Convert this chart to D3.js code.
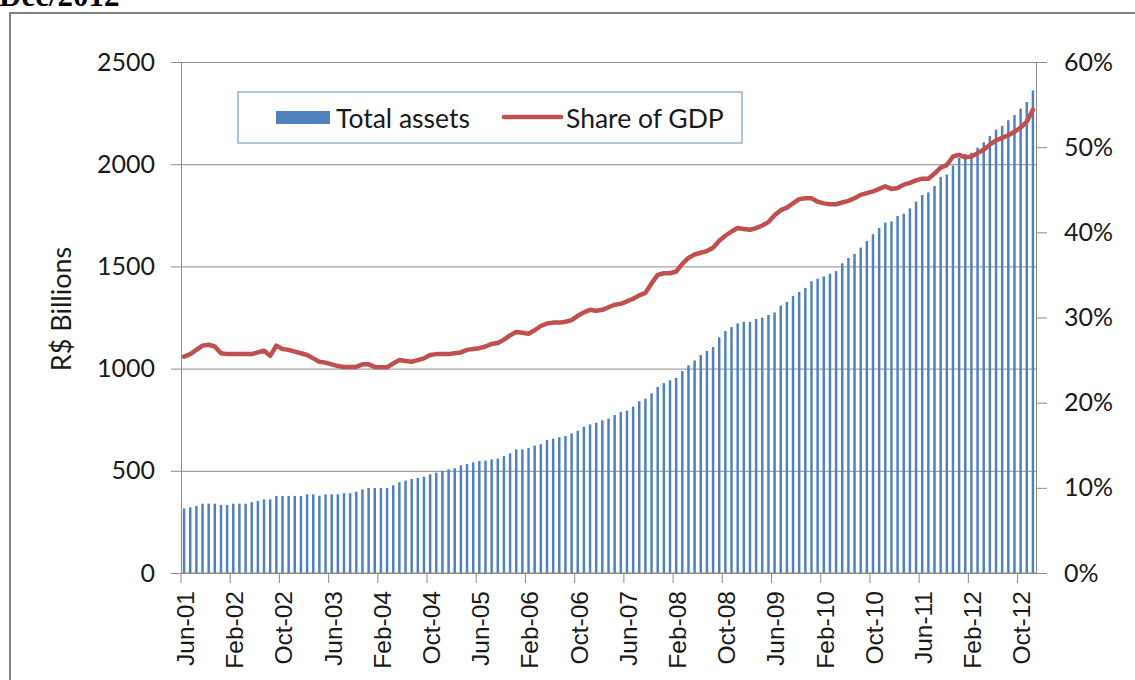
<!DOCTYPE html>
<html lang="en">
  <head>
    <meta charset="UTF-8">
    <title>Total assets and share of GDP</title>
    <style>
      body { margin: 0; background: #fff; }
      text { font-family: Lato, "Open Sans", sans-serif; fill: #1a1a1a; }
    </style>
  </head>
  <body>
<div id="my_dataviz"></div>
<script src="https://d3js.org/d3.v7.min.js"></script>
<script>

// monthly data, Jun-01 .. Dec-12
var startMonth = "2001-06"
var endMonth = "2012-12"

// total assets, R$ billions
var totalAssets = [316,321,328,339,339,339,333,333,339,339,339,346,352,360,360,377,377,377,377,377,
  385,385,378,385,385,385,390,390,398,409,416,416,416,416,429,444,452,460,465,471,
  483,491,499,507,512,527,533,541,548,550,556,560,572,585,605,605,611,623,630,651,
  657,664,670,683,696,716,727,735,747,755,773,788,794,814,840,853,879,910,929,943,
  955,988,1016,1040,1066,1086,1106,1153,1184,1203,1221,1229,1229,1243,1249,1262,1275,1308,1327,1355,
  1375,1395,1427,1440,1451,1464,1477,1515,1541,1561,1592,1624,1657,1688,1714,1720,1746,1758,1784,1817,
  1849,1862,1893,1937,1950,1993,2030,2050,2056,2081,2107,2138,2169,2188,2215,2240,2272,2304,2361]

// share of GDP, %
var shareGdp = [25.4,25.7,26.2,26.7,26.8,26.6,25.8,25.7,25.7,25.7,25.7,25.7,25.9,26.1,25.5,26.7,26.3,26.2,26.0,25.8,
  25.6,25.2,24.8,24.7,24.5,24.3,24.2,24.2,24.2,24.5,24.5,24.2,24.15,24.15,24.6,25.0,24.9,24.8,25.0,25.2,
  25.6,25.7,25.7,25.7,25.8,25.9,26.2,26.3,26.4,26.6,26.9,27.0,27.4,27.9,28.3,28.2,28.1,28.5,29.0,29.3,
  29.4,29.4,29.5,29.7,30.2,30.6,30.9,30.8,30.9,31.2,31.5,31.6,31.9,32.2,32.6,32.9,34.0,35.0,35.2,35.2,
  35.4,36.3,37.0,37.4,37.6,37.8,38.2,39.0,39.6,40.1,40.5,40.4,40.3,40.5,40.8,41.2,42.0,42.6,42.9,43.4,
  43.9,44.0,44.0,43.6,43.4,43.3,43.3,43.5,43.7,44.0,44.4,44.6,44.8,45.1,45.4,45.1,45.2,45.6,45.8,46.1,
  46.3,46.3,46.9,47.6,47.9,48.9,49.1,48.8,48.9,49.3,49.7,50.3,50.8,51.1,51.4,51.8,52.3,53.0,54.4]

var xTickLabels = ["Jun-01","Feb-02","Oct-02","Jun-03","Feb-04","Oct-04","Jun-05","Feb-06","Oct-06",
  "Jun-07","Feb-08","Oct-08","Jun-09","Feb-10","Oct-10","Jun-11","Feb-12","Oct-12"]
var leftTicks = [0, 500, 1000, 1500, 2000, 2500]
var rightTicks = [0, 10, 20, 30, 40, 50, 60]

var width = 1135
    height = 680
    margin = {top: 62, right: 99, bottom: 107, left: 181}

var fmtMonth = d3.timeFormat("%b-%y")
var parse = d3.timeParse("%Y-%m")
var months = d3.timeMonth.range(parse(startMonth), d3.timeMonth.offset(parse(endMonth), 1)).map(fmtMonth)

var data = months.map(function(m, i) { return {month: m, assets: totalAssets[i], share: shareGdp[i]} })

var svg = d3.select("#my_dataviz")
  .append("svg")
    .attr("width", width)
    .attr("height", height)

// outer frame (runs off the picture on the right and bottom)
svg.append("rect")
  .attr("x", 10).attr("y", 13)
  .attr("width", 1140).attr("height", 690)
  .attr("fill", "none")
  .attr("stroke", "#7f7f7f")
  .attr("stroke-width", 2)

// heading, cut off at the top like in the source page
svg.append("text")
  .attr("x", -1).attr("y", 6)
  .style("font-family", "'Liberation Serif', serif")
  .style("font-weight", "bold")
  .style("font-size", "31px")
  .style("fill", "#000")
  .text("Dec/2012")

var x0 = margin.left, x1 = width - margin.right
var y0 = height - margin.bottom, y1 = margin.top

var x = d3.scaleBand()
  .domain(months)
  .range([x0, x1])
  .paddingInner(0.6)
  .paddingOuter(0.3)

var y = d3.scaleLinear().domain([0, 2500]).range([y0, y1])
var yR = d3.scaleLinear().domain([0, 60]).range([y0, y1])

// gridlines + left axis
var gLeft = svg.append("g")
  .attr("transform", "translate(" + x0 + ",0)")
  .call(d3.axisLeft(y).tickValues(leftTicks).tickSize(10).tickPadding(16).tickFormat(d3.format("d")))
gLeft.selectAll(".tick line").clone()
  .attr("x2", x1 - x0)
gLeft.selectAll("line").attr("stroke", "#8c8c8c")
gLeft.select(".domain").attr("stroke", "#8c8c8c")
gLeft.selectAll("text")
  .style("font-family", "Lato, sans-serif")
  .style("font-size", "25px")
  .attr("fill", "#1a1a1a")

// right axis
var gRight = svg.append("g")
  .attr("transform", "translate(" + x1 + ",0)")
  .call(d3.axisRight(yR).tickValues(rightTicks).tickSize(11).tickPadding(17).tickFormat(function(d) { return d + "%" }))
gRight.selectAll("line").attr("stroke", "#8c8c8c")
gRight.select(".domain").attr("stroke", "#8c8c8c")
gRight.selectAll("text")
  .style("font-family", "Lato, sans-serif")
  .style("font-size", "25px")
  .attr("fill", "#1a1a1a")

// bars
svg.append("g")
  .selectAll("rect")
  .data(data)
  .enter()
  .append("rect")
    .attr("x", function(d) { return x(d.month) })
    .attr("width", x.bandwidth())
    .attr("y", function(d) { return y(d.assets) })
    .attr("height", function(d) { return y0 - y(d.assets) })
    .attr("fill", "#4f81bd")

// x axis: ticks on category boundaries, labels in the middle
var step = x.step()
var xAt = function(m) { return x(m) - x.paddingInner() * step / 2 }
var gx = svg.append("g")
gx.append("line")
  .attr("x1", x0).attr("x2", x1)
  .attr("y1", y0).attr("y2", y0)
  .attr("stroke", "#8c8c8c")
var xt = gx.selectAll("g.xtick")
  .data(xTickLabels)
  .enter()
  .append("g")
    .attr("class", "xtick")
    .attr("transform", function(d) { return "translate(" + xAt(d) + "," + y0 + ")" })
xt.append("line")
  .attr("y2", 10)
  .attr("stroke", "#8c8c8c")
xt.append("text")
  .attr("transform", "translate(" + (step / 2 + 1) + ",18) rotate(-90)")
  .attr("text-anchor", "end")
  .attr("dy", "0.36em")
  .style("font-family", "'Liberation Sans', Arial, sans-serif")
  .style("font-size", "24.5px")
  .text(function(d) { return d })

// share of GDP line
var line = d3.line()
  .x(function(d) { return x(d.month) + x.bandwidth() / 2 })
  .y(function(d) { return yR(d.share) })

svg.append("path")
  .datum(data)
  .attr("d", line)
  .attr("fill", "none")
  .attr("stroke", "#c0504d")
  .attr("stroke-width", 4.5)
  .attr("stroke-linejoin", "round")
  .attr("stroke-linecap", "round")

// y title
svg.append("text")
  .attr("transform", "translate(71,309) rotate(-90)")
  .attr("text-anchor", "middle")
  .style("font-size", "27px")
  .text("R$ Billions")

// legend
var lg = svg.append("g").attr("transform", "translate(238,92)")
lg.append("rect")
  .attr("width", 504).attr("height", 51)
  .attr("fill", "#fff")
  .attr("stroke", "#95b3d7")
  .attr("stroke-width", 1.5)
lg.append("rect")
  .attr("x", 38).attr("y", 19)
  .attr("width", 54).attr("height", 13)
  .attr("fill", "#4f81bd")
lg.append("text")
  .attr("x", 98).attr("y", 26).attr("dy", "0.36em")
  .style("font-size", "26.5px")
  .text("Total assets")
lg.append("line")
  .attr("x1", 266).attr("x2", 323)
  .attr("y1", 25).attr("y2", 25)
  .attr("stroke", "#c0504d")
  .attr("stroke-width", 4.5)
  .attr("stroke-linecap", "round")
lg.append("text")
  .attr("x", 328).attr("y", 26).attr("dy", "0.36em")
  .style("font-size", "26.5px")
  .text("Share of GDP")

</script>
  </body>
</html>
